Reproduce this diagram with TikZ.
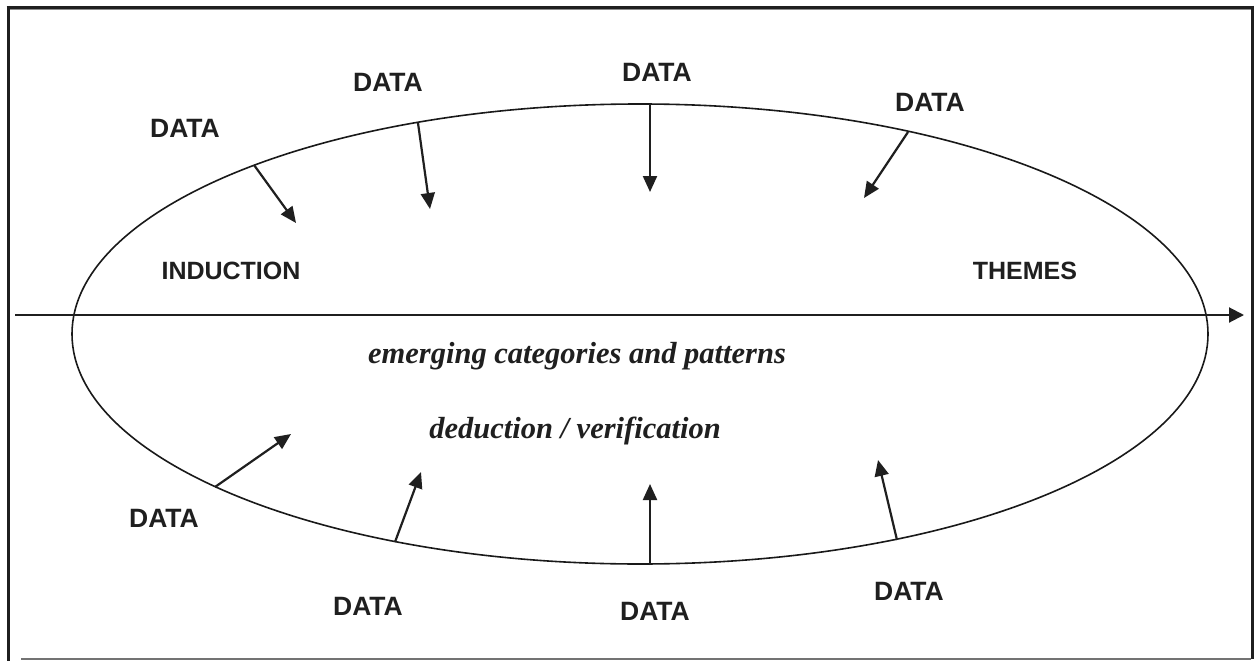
\documentclass[tikz,border=0pt]{standalone}
\usepackage{fontspec}
\setmainfont{Liberation Serif}
\newfontfamily\labelsans{Liberation Sans}
\usetikzlibrary{arrows.meta}
\tikzset{
  datalabel/.style={font=\labelsans\bfseries\fontsize{26.5}{31}\selectfont, inner sep=0pt, text=black!88},
  phaselabel/.style={font=\labelsans\bfseries\fontsize{25}{30}\selectfont, inner sep=0pt, text=black!88},
  processlabel/.style={font=\bfseries\itshape\fontsize{30.5}{36}\selectfont, inner sep=0pt, text=black!88},
  flow/.style={line width=2.2pt, draw=black!88, -{Triangle[length=16pt,width=14pt]}},
  axisline/.style={line width=2pt, draw=black!88, -{Triangle[length=15pt,width=15pt]}},
  frameline/.style={line width=3pt, draw=black!88},
}
\begin{document}
\begin{tikzpicture}[x=1pt,y=-1pt]
\useasboundingbox (0,0) rectangle (1258,661);
\fill[white] (0,0) rectangle (1258,661);

% frame
\draw[line width=1.2pt, black!45] (8,9.8) -- (1251,9.8);
\draw[frameline] (6.5,7.5) -- (1252,7.5);
\draw[frameline] (8.5,6) -- (8.5,661);
\draw[frameline] (1252,6) -- (1252,659);
\draw[line width=2pt, black!55] (21,659) -- (1251,659);

% ellipse of the research process
\draw[line width=1.6pt, black!90] (640,334) ellipse [x radius=568, y radius=230];

% horizontal time axis
\coordinate (axL) at (15,315);
\coordinate (axR) at (1244,315);
\draw[axisline] (axL) -- (axR);

% data entering from above
\coordinate (s1) at (254,165);  \coordinate (t1) at (296,223);
\coordinate (s2) at (418,123);  \coordinate (t2) at (430,209);
\coordinate (s3) at (650,104);  \coordinate (t3) at (650,192);
\coordinate (s4) at (908,132);  \coordinate (t4) at (864,198);
% data entering from below
\coordinate (s5) at (215,487);  \coordinate (t5) at (291,434);
\coordinate (s6) at (395,542);  \coordinate (t6) at (421,472);
\coordinate (s7) at (650,565);  \coordinate (t7) at (650,484);
\coordinate (s8) at (897,540);  \coordinate (t8) at (878,460);

\foreach \i in {1,...,8} \draw[flow] (s\i) -- (t\i);

% labels
\node[datalabel] (d1) at (185,128) {DATA};
\node[datalabel] (d2) at (388,82) {DATA};
\node[datalabel] (d3) at (657,72) {DATA};
\node[datalabel] (d4) at (930,102) {DATA};
\node[datalabel] (d5) at (164,518) {DATA};
\node[datalabel] (d6) at (368,606) {DATA};
\node[datalabel] (d7) at (655,611) {DATA};
\node[datalabel] (d8) at (909,591) {DATA};

\node[phaselabel] (ind) at (231,271) {INDUCTION};
\node[phaselabel] (thm) at (1025,271) {THEMES};

\node[processlabel, anchor=base] (emg) at (577,363) {emerging categories and patterns};
\node[processlabel, anchor=base] (ded) at (575,438) {deduction / verification};
\end{tikzpicture}
\end{document}
